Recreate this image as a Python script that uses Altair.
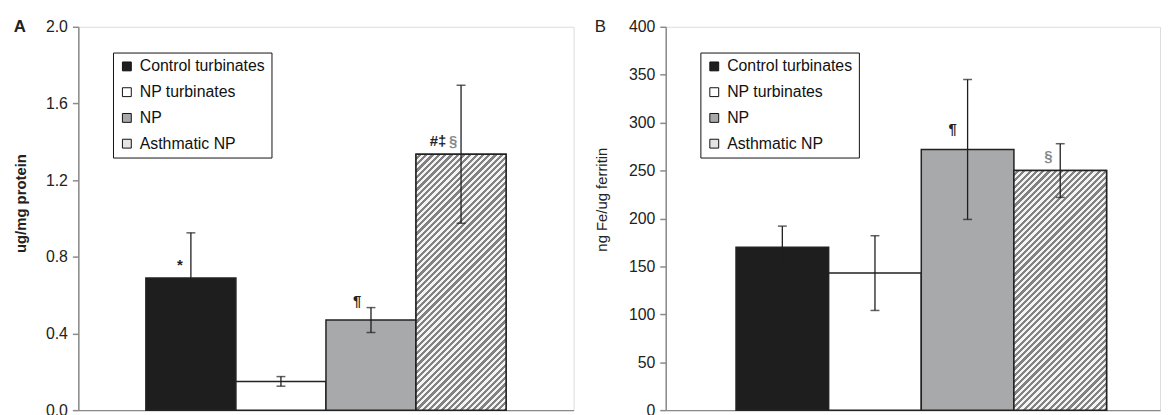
import altair as alt
import pandas as pd

# ---------------- data ----------------
groups = ["Control turbinates", "NP turbinates", "NP", "Asthmatic NP"]

iron_mean = [0.69, 0.15, 0.47, 1.335]
iron_sem = [0.235, 0.025, 0.065, 0.36]

ferritin_mean = [170, 143, 272, 250]
ferritin_sem = [22, 39, 73, 28]

iron_ticks = [0.0, 0.4, 0.8, 1.2, 1.6, 2.0]
ferritin_ticks = [0, 50, 100, 150, 200, 250, 300, 350, 400]

annot_a_groups = ["Control turbinates", "NP", "Asthmatic NP", "Asthmatic NP"]
annot_a_text = ["*", "¶", "#‡", "§"]
annot_b_groups = ["NP", "Asthmatic NP"]
annot_b_text = ["¶", "§"]

# ---------------- style ----------------
FONT = "Liberation Sans"
BLACK = "#1e1e1e"
FILLS = [BLACK, "#ffffff", "#a8a9ab", "#e4e4e4"]
PLOT_H = 387


def hatch(w, h, n, dark="#828282", light="#f4f4f4", frac=0.5):
    r = w / h
    q = (1 + r) / (1 + r * r)
    p = r * q
    stops = []
    for k in range(n):
        a = k / n
        b = (k + frac) / n
        c = (k + 1) / n
        stops += [
            {"offset": round(a, 5), "color": light},
            {"offset": round(b, 5), "color": light},
            {"offset": round(b, 5), "color": dark},
            {"offset": round(c, 5), "color": dark},
        ]
    return {"gradient": "linear", "x1": 0, "y1": 0, "x2": p, "y2": q, "stops": stops}


def panel(letter, means, sems, ytitle, ymax, ticks, fmt, width, po, align,
          hatch_fill, ann_groups, ann_text, ann_style, title_x, title_y,
          title_weight, letter_weight, letter_dx):
    df = pd.DataFrame({
        "group": groups,
        "mean": means,
        "lo": [m - s for m, s in zip(means, sems)],
        "hi": [m + s for m, s in zip(means, sems)],
    })
    xs = alt.Scale(domain=groups, paddingInner=0, paddingOuter=po, align=align)
    xax = alt.Axis(title=None, labels=False, ticks=False, domain=True,
                   domainColor="#8a8a8a", domainWidth=1.5)
    ysc = alt.Scale(domain=[0, ymax], nice=False, zero=True)
    yax = alt.Axis(values=ticks, format=fmt, title=ytitle, grid=False,
                   labelFont=FONT, labelFontSize=16, labelColor="#222",
                   labelPadding=5, tickSize=6, tickColor="#8a8a8a", tickWidth=1.5,
                   domainColor="#8a8a8a", domainWidth=1.5,
                   titleFont=FONT, titleFontSize=15, titleFontWeight=title_weight,
                   titleColor="#222", titleX=title_x, titleY=title_y)

    def X():
        return alt.X("group:N", sort=groups, scale=xs, axis=xax)

    def Y(f):
        return alt.Y(f, scale=ysc, axis=yax)

    base = alt.Chart(df)
    bars = base.mark_bar(stroke="#222", strokeWidth=1.5).encode(
        x=X(), y=Y("mean:Q"),
        color=alt.Color("group:N", sort=groups,
                        scale=alt.Scale(domain=groups, range=FILLS),
                        legend=alt.Legend(orient="none", legendX=35, legendY=26,
                                          title=None, strokeColor="#111",
                                          fillColor="white", padding=6,
                                          symbolType="square", symbolSize=80,
                                          symbolStrokeColor="#111",
                                          symbolStrokeWidth=1,
                                          labelFont=FONT, labelFontSize=16,
                                          labelColor="#111", labelOffset=5,
                                          rowPadding=10)),
    )
    hat = base.transform_filter(alt.datum.group == "Asthmatic NP").mark_bar(
        fill=hatch_fill, stroke="#222", strokeWidth=1.5
    ).encode(x=X(), y=Y("mean:Q"))

    rule = base.mark_rule(color=BLACK, strokeWidth=1.3).encode(
        x=X(), y=Y("lo:Q"), y2="hi:Q")
    cap_lo = base.mark_tick(color=BLACK, thickness=1.5, size=9).encode(
        x=X(), y=Y("lo:Q"))
    cap_hi = base.mark_tick(color=BLACK, thickness=1.5, size=9).encode(
        x=X(), y=Y("hi:Q"))

    layers = [bars, hat, rule, cap_lo, cap_hi]

    mean_of = dict(zip(groups, means))
    for g, t, (dx, dy, col, al) in zip(ann_groups, ann_text, ann_style):
        adf = pd.DataFrame({"group": [g], "mean": [mean_of[g]], "t": [t]})
        layers.append(
            alt.Chart(adf).mark_text(dx=dx, dy=dy, color=col, align=al,
                                     baseline="middle", font=FONT,
                                     fontSize=15, fontWeight="bold").encode(
                x=X(), y=Y("mean:Q"), text="t:N")
        )

    ldf = pd.DataFrame({"t": [letter]})
    layers.append(
        alt.Chart(ldf).mark_text(font=FONT, fontSize=17, fontWeight=letter_weight,
                                 color="#222", align="center", baseline="middle",
                                 clip=False).encode(
            x=alt.value(letter_dx), y=alt.value(0), text="t:N")
    )
    return alt.layer(*layers).properties(width=width, height=PLOT_H)


hatch_a = hatch(90.9, 258.3, 55)
hatch_b = hatch(93.5, 241.9, 53)

panel_a = panel(
    "A", iron_mean, iron_sem, "ug/mg protein", 2.0, iron_ticks, ".1f", 500,
    0.75, 0.5, hatch_a, annot_a_groups, annot_a_text,
    [(-11, -13, "#222", "center"), (-14, -19, "#222", "center"),
     (-15, -13, "#222", "right"), (-8, -13, "#8a8a8a", "center")],
    -50, 178, "bold", "bold", -59)

panel_b = panel(
    "B", ferritin_mean, ferritin_sem, "ng Fe/ug ferritin", 400, ferritin_ticks,
    "d", 499, 0.668, 0.568, hatch_b, annot_b_groups, annot_b_text,
    [(-15, -21, "#222", "center"), (-12, -15, "#8a8a8a", "center")],
    -57, 174, "normal", "normal", -66)

chart = alt.hconcat(panel_a, panel_b, spacing=19).resolve_legend(
    color="independent"
).properties(
    padding={"left": 5, "top": 7, "right": 0, "bottom": 0}
).configure_view(stroke="#8f8f8f", strokeWidth=1.2).configure(background="white")

chart.save("out.html", embed_options={"renderer": "svg", "actions": False})
